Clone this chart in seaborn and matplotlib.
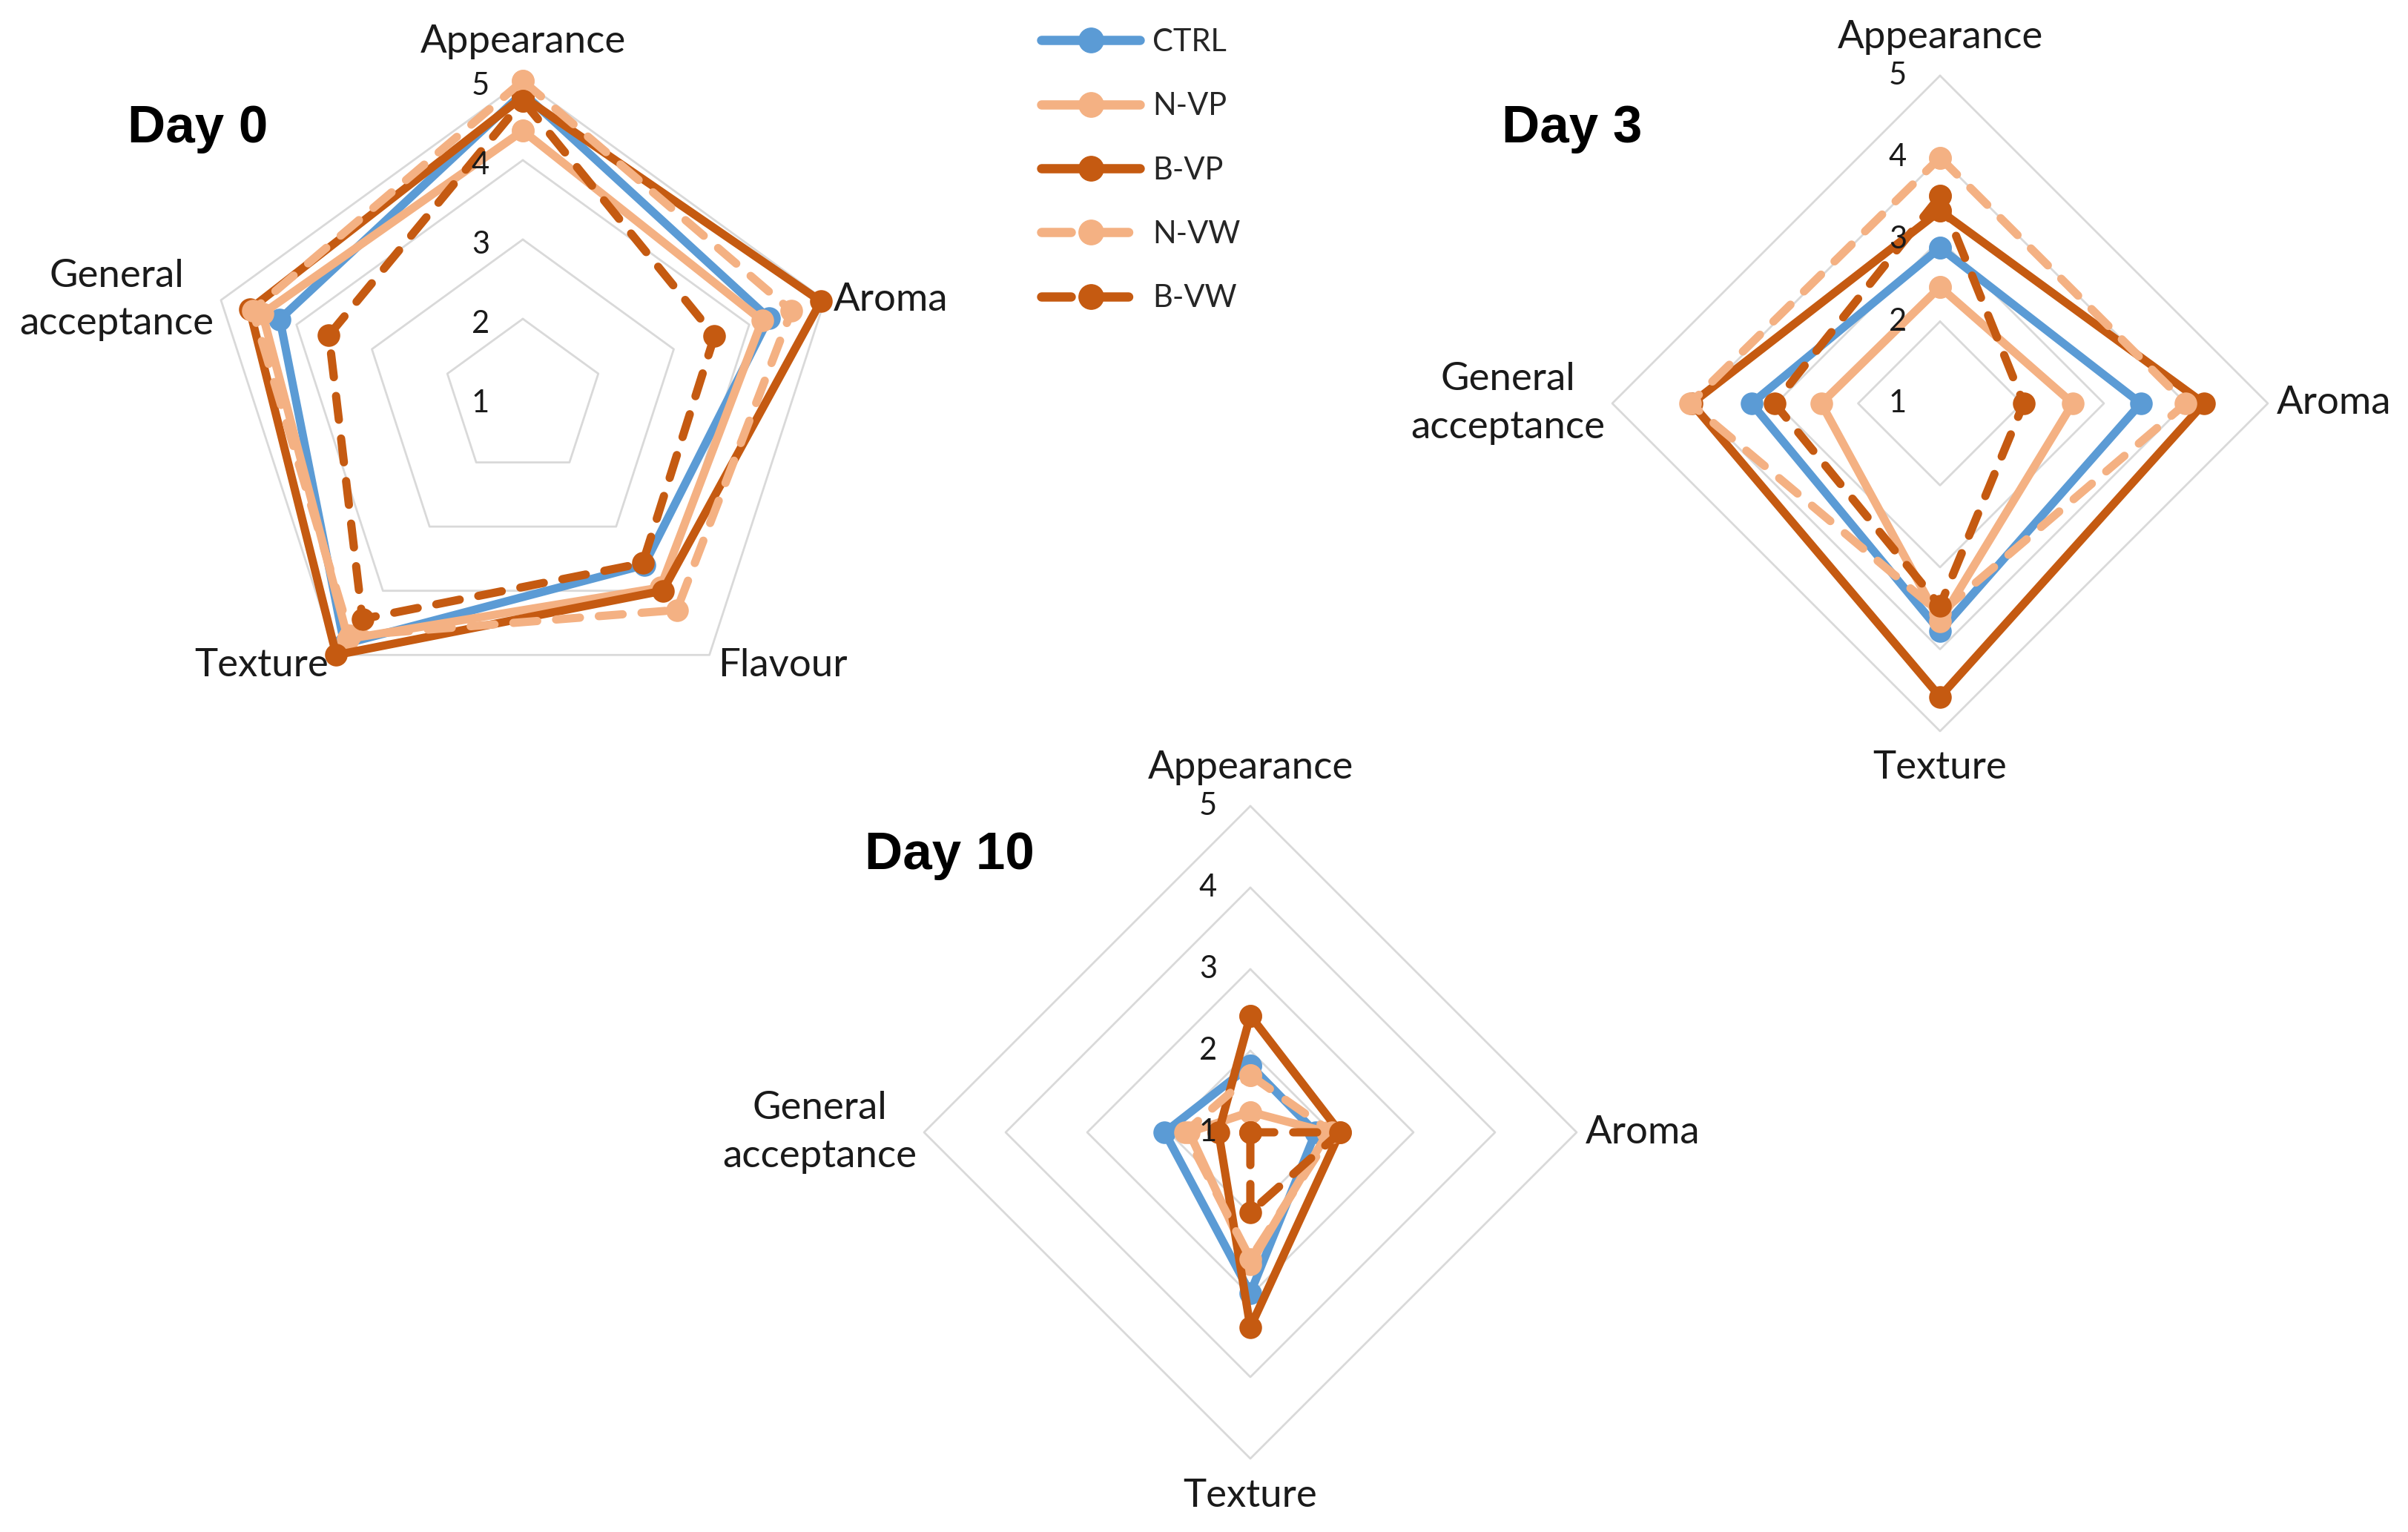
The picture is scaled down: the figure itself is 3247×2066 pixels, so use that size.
import numpy as np
import pandas as pd
import matplotlib
matplotlib.use("Agg")
import matplotlib.pyplot as plt
import seaborn as sns
from matplotlib.lines import Line2D

# sensory scores (scale 1-5)
samples = ["CTRL", "N-VP", "B-VP", "N-VW", "B-VW"]
colors = ["#5B9BD5", "#F4B183", "#C55A11", "#F4B183", "#C55A11"]
dashed = [False, False, False, True, True]

attrs_day0 = ["Appearance", "Aroma", "Flavour", "Texture", "General\nacceptance"]
attrs_day3 = ["Appearance", "Aroma", "Texture", "General\nacceptance"]
attrs_day10 = ["Appearance", "Aroma", "Texture", "General\nacceptance"]

day0_ctrl = [4.85, 4.26, 3.60, 4.83, 4.22]
day0_nvp = [4.37, 4.17, 3.95, 4.75, 4.45]
day0_bvp = [4.80, 4.95, 4.00, 5.00, 4.62]
day0_nvw = [5.00, 4.56, 4.30, 4.70, 4.58]
day0_bvw = [4.75, 3.54, 3.57, 4.44, 3.57]

day3_ctrl = [2.90, 3.45, 3.78, 3.30]
day3_nvp = [2.42, 2.62, 3.66, 2.45]
day3_bvp = [3.35, 4.22, 4.58, 4.03]
day3_nvw = [4.00, 4.00, 3.56, 4.05]
day3_bvw = [3.53, 2.02, 3.47, 3.02]

day10_ctrl = [1.82, 1.80, 2.97, 2.05]
day10_nvp = [1.25, 1.95, 2.62, 1.75]
day10_bvp = [2.43, 2.10, 3.39, 1.39]
day10_nvw = [1.70, 2.00, 2.55, 1.80]
day10_bvw = [1.00, 2.10, 1.98, 1.00]

ticks = [1, 2, 3, 4, 5]

W, H = 3248, 2066
DPI = 100
PX = 72 / DPI  # points per pixel

sns.set_theme(style="white")
plt.rcParams["font.family"] = ["Lato", "DejaVu Sans"]

fig = plt.figure(figsize=(W / DPI, H / DPI), dpi=DPI)
fig.patch.set_facecolor("white")

LW = 8
MS = 22
palette = dict(zip(samples, colors))
dash_map = {s: ((2.9, 2.3) if d else "") for s, d in zip(samples, dashed)}
marker_map = {s: "o" for s in samples}


def radar(cx, cy, unit, attrs, scores, title, tx, ty, tick_dy=0):
    L = 5.0
    half = L * unit
    ax = fig.add_axes([(cx - half) / W, (H - cy - half) / H, 2 * half / W, 2 * half / H])
    ax.set_xlim(-L, L)
    ax.set_ylim(-L, L)
    ax.axis("off")

    n = len(attrs)
    ang = np.deg2rad(90 - 360 * np.arange(n) / n)
    ang_c = np.append(ang, ang[0])

    # polygon gridlines for 2..5
    for t in ticks[1:]:
        r = t - ticks[0]
        ax.plot(r * np.cos(ang_c), r * np.sin(ang_c), color="#D9D9D9", lw=2, zorder=1)

    rows = []
    for s, vals in zip(samples, scores):
        v = np.append(vals, vals[0]) - ticks[0]
        for k in range(n + 1):
            rows.append({"sample": s, "x": v[k] * np.cos(ang_c[k]), "y": v[k] * np.sin(ang_c[k])})
    df = pd.DataFrame(rows)

    sns.lineplot(data=df, x="x", y="y", hue="sample", style="sample",
                 hue_order=samples, style_order=samples, palette=palette,
                 dashes=dash_map, markers=marker_map, sort=False, estimator=None,
                 lw=LW, markersize=MS, markeredgewidth=0,
                 dash_capstyle="round", solid_capstyle="round",
                 legend=False, ax=ax, zorder=3)

    # category labels
    R = ticks[-1] - ticks[0]
    for a, lab in zip(ang, attrs):
        c, s = np.cos(a), np.sin(a)
        if c > 0.1:
            ha, dx, dy = "left", 12, (-14 if s < -0.5 else 0)
        elif c < -0.1:
            ha, dx, dy = "right", -10, (-14 if s < -0.5 else 0)
        else:
            ha, dx, dy = "center", 0, (52 if s > 0 else -50)
        ax.annotate(lab, (R * c, R * s), xytext=(dx * PX, dy * PX),
                    textcoords="offset points", ha=ha, va="center",
                    multialignment="center", linespacing=1.45,
                    fontsize=38, color="#1a1a1a", annotation_clip=False)

    # value labels
    for t in ticks:
        ax.annotate(str(t), (0, t - ticks[0]), xytext=(-57 * PX, tick_dy * PX),
                    textcoords="offset points", ha="center", va="center",
                    fontsize=30, color="#1a1a1a", annotation_clip=False)

    fig.text(tx / W, 1 - ty / H, title, ha="left", va="center",
             fontsize=51, fontweight="bold", family="Liberation Sans", color="black")
    return ax


radar(705, 537, 107, attrs_day0,
      [day0_ctrl, day0_nvp, day0_bvp, day0_nvw, day0_bvw], "Day 0", 172, 174, tick_dy=-7)
radar(2616, 544, 110.5, attrs_day3,
      [day3_ctrl, day3_nvp, day3_bvp, day3_nvw, day3_bvw], "Day 3", 2025, 174)
radar(1686, 1527, 110, attrs_day10,
      [day10_ctrl, day10_nvp, day10_bvp, day10_nvw, day10_bvw], "Day 10", 1166, 1154)

handles = [Line2D([], [], color=c, lw=LW + 1, marker="o", markersize=MS + 2,
                  linestyle=((0, (3.2, 3.0)) if d else "-"),
                  dash_capstyle="round", solid_capstyle="round")
           for c, d in zip(colors, dashed)]
fig.legend(handles, samples, loc="upper left",
           bbox_to_anchor=(1404 / W, 1 - 38 / H), frameon=False,
           fontsize=30, handlelength=3.2, handletextpad=0.4,
           labelspacing=1.16, borderpad=0, borderaxespad=0, numpoints=1)

fig.savefig("out.png", dpi=DPI, facecolor="white")
